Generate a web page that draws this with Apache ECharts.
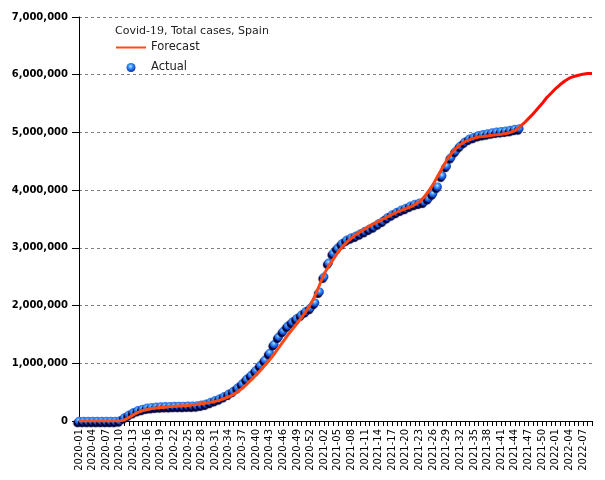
<!DOCTYPE html>
<html>
<head>
<meta charset="utf-8">
<script src="https://cdn.jsdelivr.net/npm/echarts@6/dist/echarts.min.js"></script>
<style>html,body{margin:0;padding:0;background:#fff}#c{width:605px;height:480px}</style>
</head>
<body>
<div id="c"></div>
<script>
// ISO weeks per year shown on the axis
const weekYears = [[2020, 53], [2021, 52], [2022, 9]];
const categories = [];
weekYears.forEach(([y, n]) => { for (let w = 1; w <= n; w++) categories.push(y + '-' + String(w).padStart(2, '0')); });

const yTicks = [0, 1000000, 2000000, 3000000, 4000000, 5000000, 6000000, 7000000];

const actual = [
  0, 0, 0, 0, 0, 0, 0, 0, 0, 10000,
  60000, 110000, 150000, 185000, 210000, 228000, 240000, 247000, 251000, 254000,
  256000, 258000, 259000, 261000, 263000, 266000, 270000, 280000, 300000, 330000,
  360000, 390000, 430000, 470000, 520000, 580000, 650000, 730000, 800000, 880000,
  970000, 1060000, 1180000, 1330000, 1460000, 1560000, 1650000, 1720000, 1780000, 1840000,
  1900000, 1960000, 2050000, 2240000, 2500000, 2740000, 2910000, 3000000, 3080000, 3140000,
  3180000, 3210000, 3250000, 3290000, 3330000, 3370000, 3420000, 3470000, 3530000, 3580000,
  3620000, 3660000, 3690000, 3730000, 3760000, 3780000, 3800000, 3860000, 3940000, 4060000,
  4250000, 4420000, 4570000, 4680000, 4770000, 4840000, 4890000, 4920000, 4950000, 4970000,
  4980000, 5000000, 5010000, 5020000, 5030000, 5040000, 5060000, 5070000
];

const forecast = [
  0, 0, 0, 0, 0, 0, 0, 0, 0, 0,
  20000, 60000, 110000, 150000, 180000, 200000, 215000, 225000, 235000, 240000,
  250000, 255000, 260000, 265000, 270000, 280000, 290000, 300000, 310000, 325000,
  340000, 360000, 390000, 420000, 460000, 510000, 570000, 640000, 720000, 800000,
  880000, 970000, 1060000, 1160000, 1270000, 1380000, 1490000, 1590000, 1690000, 1790000,
  1900000, 2020000, 2170000, 2360000, 2550000, 2680000, 2800000, 2920000, 3020000, 3100000,
  3170000, 3230000, 3280000, 3330000, 3380000, 3420000, 3460000, 3500000, 3540000, 3580000,
  3620000, 3650000, 3680000, 3710000, 3750000, 3800000, 3880000, 3980000, 4100000, 4240000,
  4380000, 4520000, 4630000, 4720000, 4790000, 4840000, 4870000, 4900000, 4920000, 4930000,
  4940000, 4950000, 4960000, 4970000, 4980000, 5000000, 5030000, 5090000, 5160000, 5240000,
  5320000, 5410000, 5500000, 5600000, 5680000, 5760000, 5830000, 5890000, 5940000, 5970000,
  5990000, 6010000, 6020000, 6020000
];

const FONT = 'DejaVu Sans';
const sphere = {
  type: 'radial', x: 0.45, y: 0.38, r: 0.62,
  colorStops: [
    { offset: 0, color: '#c4eeff' },
    { offset: 0.3, color: '#4aa2ff' },
    { offset: 0.75, color: '#1452d4' },
    { offset: 1, color: '#0a2a92' }
  ]
};

const chart = echarts.init(document.getElementById('c'), null, { renderer: 'canvas' });
chart.setOption({
  animation: false,
  backgroundColor: '#fff',
  title: {
    text: '{a|Covid-}{b|19}{a|, Total cases, Spain}',
    left: 115, top: 24, padding: 0,
    textStyle: {
      fontWeight: 'normal',
      rich: {
        a: { fontFamily: FONT, fontSize: 11, fontWeight: 'normal', color: '#222', lineHeight: 14 },
        b: { fontFamily: 'DejaVu Serif', fontSize: 11, fontWeight: 'normal', color: '#222', lineHeight: 14 }
      }
    }
  },
  legend: [
    {
      data: [{ name: 'Forecast', icon: 'rect', itemStyle: { color: '#ff4a12', borderWidth: 0 } }],
      left: 116, top: 41.5, padding: 0, itemWidth: 30, itemHeight: 2,
      textStyle: { fontFamily: FONT, fontSize: 11.5, color: '#222' }
    },
    {
      data: ['Actual'],
      left: 126.5, top: 61.5, padding: 0, itemWidth: 30, itemHeight: 9,
      textStyle: { fontFamily: FONT, fontSize: 11.5, color: '#222' }
    }
  ],
  grid: { left: 79, right: 13, top: 17, bottom: 59, containLabel: false },
  xAxis: {
    type: 'category',
    data: categories,
    boundaryGap: false,
    axisLine: { lineStyle: { color: '#000', width: 1 } },
    axisTick: { show: true, interval: 0, length: 5, lineStyle: { color: '#000' } },
    axisLabel: { interval: 2, rotate: 90, margin: 8, fontFamily: FONT, fontSize: 10, color: '#000' },
    splitLine: { show: false }
  },
  yAxis: {
    type: 'value',
    min: yTicks[0], max: yTicks[yTicks.length - 1], interval: yTicks[1] - yTicks[0],
    axisLine: { show: true, lineStyle: { color: '#000', width: 1 } },
    axisTick: { show: true, length: 7, lineStyle: { color: '#000' } },
    axisLabel: {
      margin: 11, fontFamily: FONT, fontSize: 10, fontWeight: 'bold', color: '#000',
      formatter: v => String(v).replace(/\B(?=(\d{3})+(?!\d))/g, ',')
    },
    splitLine: { show: true, lineStyle: { color: '#808080', type: [3, 3], width: 1 } }
  },
  series: [
    {
      name: 'Actual',
      type: 'scatter',
      z: 2,
      symbol: 'circle',
      symbolSize: 8.5,
      data: actual.map((v, i) => [categories[i], v]),
      itemStyle: {
        color: sphere, opacity: 1,
        shadowColor: '#000038', shadowBlur: 1, shadowOffsetX: -1.5, shadowOffsetY: 2
      }
    },
    {
      name: 'Forecast',
      type: 'line',
      z: 3,
      symbol: 'none',
      showSymbol: false,
      data: forecast,
      lineStyle: {
        width: 3,
        color: {
          type: 'linear', x: 0, y: 0, x2: 1, y2: 0,
          colorStops: [
            { offset: 0, color: '#ff5218' },
            { offset: 0.85, color: '#ff4010' },
            { offset: 0.88, color: '#ff0a00' },
            { offset: 1, color: '#ff0a00' }
          ]
        }
      },
      itemStyle: { color: '#ff4a12' }
    }
  ]
});
</script>
</body>
</html>
